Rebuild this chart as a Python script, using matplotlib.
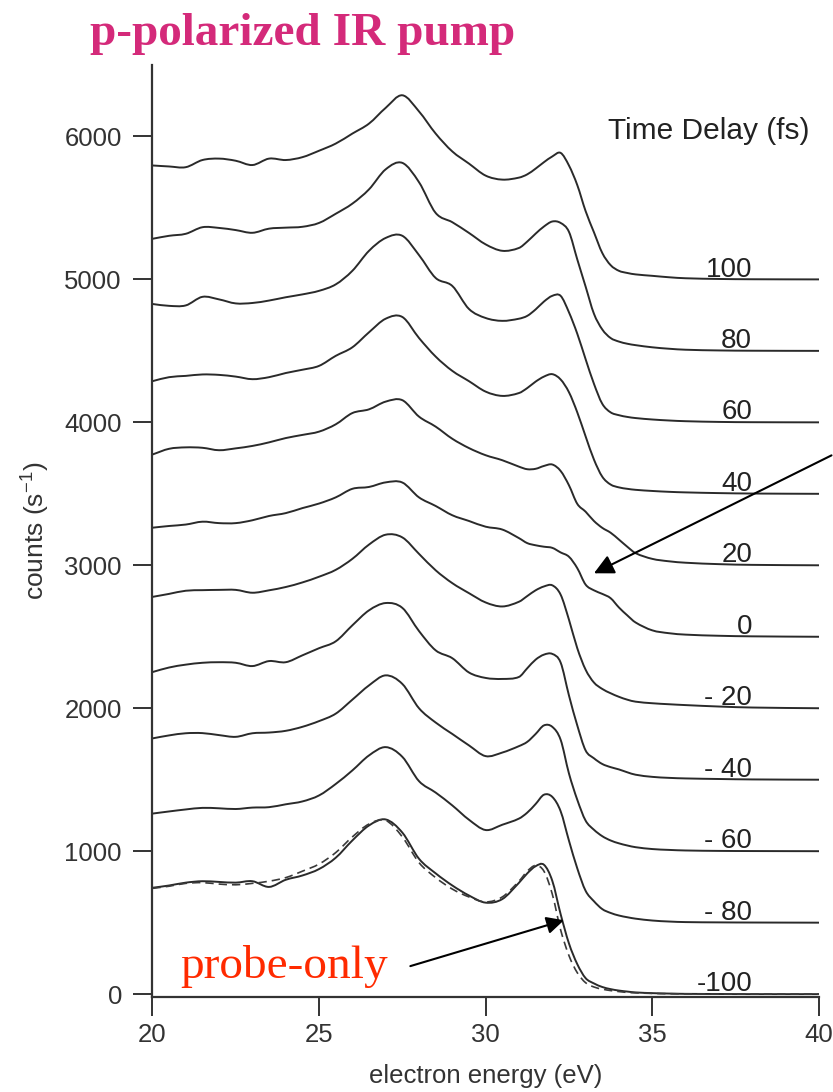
import matplotlib
matplotlib.use("Agg")
import matplotlib.pyplot as plt
from matplotlib.path import Path
from matplotlib.patches import PathPatch

plt.rcParams['font.family'] = ['Liberation Sans', 'DejaVu Sans']
plt.rcParams['mathtext.default'] = 'regular'

# Electron energy grid (eV)
energy = [20, 20.5, 21, 21.5, 22, 22.5, 23, 23.5, 24, 24.5, 25, 25.5, 26, 26.5,
          27, 27.5, 28, 28.5, 29, 29.5, 30, 30.5, 31,
          31.25, 31.5, 31.75, 32, 32.25, 32.5, 32.75, 33, 33.25, 33.5, 33.75,
          34, 34.25, 34.5,
          35, 35.5, 36, 37, 38, 40]

# Photoelectron spectra (counts/s) for each pump-probe time delay
delays = [100, 80, 60, 40, 20, 0, -20, -40, -60, -80, -100]
delay_labels = ["100", "80", "60", "40", "20", "0", "- 20", "- 40", "- 60", "- 80", "-100"]
offsets = [5000, 4500, 4000, 3500, 3000, 2500, 2000, 1500, 1000, 500, 0]

spec_p100 = [797, 790, 785, 835, 845, 830, 800, 845, 835, 855, 900, 950, 1020, 1090,
             1200, 1288, 1175, 1020, 895, 810, 726, 698, 712,
             735, 775, 820, 860, 885, 797, 660, 478, 330, 185, 100, 60, 45, 35,
             25, 15, 8, 3, 1, 0]
spec_p80 = [784, 805, 819, 865, 860, 845, 826, 855, 862, 868, 895, 959, 1030, 1130,
            1270, 1315, 1180, 965, 900, 825, 745, 700, 720,
            765, 820, 870, 905, 895, 833, 640, 450, 260, 150, 90, 65, 50, 40,
            25, 15, 8, 3, 1, 0]
spec_p60 = [828, 815, 818, 878, 860, 832, 835, 852, 875, 895, 920, 965, 1060, 1200,
            1290, 1305, 1170, 1010, 954, 793, 730, 710, 725,
            745, 790, 845, 885, 885, 770, 620, 442, 270, 130, 70, 50, 38, 30,
            20, 13, 8, 3, 1, 0]
spec_p40 = [788, 816, 825, 835, 832, 820, 802, 816, 845, 868, 895, 965, 1025, 1130,
            1225, 1237, 1090, 960, 860, 788, 715, 685, 705,
            740, 785, 820, 837, 800, 711, 570, 402, 240, 120, 65, 45, 35, 28,
            20, 14, 10, 5, 2, 0]
spec_p20 = [775, 815, 825, 822, 805, 818, 835, 860, 890, 912, 935, 986, 1065, 1091,
            1145, 1155, 1040, 970, 885, 820, 770, 735, 690,
            672, 675, 695, 705, 660, 560, 430, 375, 310, 262, 228, 180, 130, 85,
            45, 28, 18, 8, 3, 0]
spec_0 = [763, 775, 785, 805, 795, 795, 815, 845, 865, 900, 932, 975, 1035, 1048,
          1080, 1079, 975, 915, 850, 810, 770, 750, 690,
          655, 640, 630, 622, 590, 560, 480, 365, 325, 300, 270, 205, 150, 100,
          45, 25, 15, 7, 3, 0]
spec_m20 = [779, 800, 822, 826, 828, 828, 808, 825, 848, 880, 920, 968, 1045, 1145,
            1214, 1195, 1080, 965, 875, 805, 740, 712, 745,
            785, 825, 852, 860, 795, 620, 420, 270, 180, 135, 105, 80, 60, 46,
            35, 28, 22, 12, 5, 0]
spec_m40 = [753, 785, 805, 818, 822, 818, 795, 830, 822, 870, 920, 968, 1080, 1185,
            1236, 1202, 1040, 905, 850, 750, 712, 705, 719,
            780, 840, 875, 880, 820, 590, 380, 205, 150, 110, 88, 72, 52, 35,
            20, 13, 9, 5, 2, 0]
spec_m60 = [789, 810, 825, 826, 812, 800, 825, 830, 842, 870, 910, 962, 1060, 1160,
            1230, 1170, 1000, 900, 820, 740, 665, 690, 735,
            765, 820, 880, 870, 780, 544, 360, 214, 150, 105, 75, 55, 40, 28,
            15, 9, 5, 2, 1, 0]
spec_m80 = [763, 778, 792, 803, 800, 795, 805, 808, 828, 848, 890, 970, 1065, 1170,
            1228, 1160, 990, 910, 820, 720, 648, 685, 728,
            770, 830, 895, 880, 780, 574, 380, 223, 150, 95, 68, 50, 38, 28,
            15, 8, 4, 2, 1, 0]
spec_m100 = [744, 760, 780, 790, 785, 780, 790, 750, 800, 830, 875, 954, 1075, 1180,
             1222, 1130, 947, 845, 760, 690, 640, 665, 779,
             845, 895, 905, 793, 560, 355, 210, 112, 75, 50, 35, 25, 18, 12,
             7, 4, 2, 1, 0, 0]
# Reference spectrum without the IR pump
spec_probe_only = [740, 755, 775, 780, 770, 765, 775, 790, 815, 860, 910, 990, 1100, 1190,
                   1215, 1100, 920, 815, 735, 680, 645, 680, 790,
                   860, 900, 860, 700, 450, 270, 150, 80, 50, 35, 25, 18, 12, 9,
                   5, 3, 2, 1, 0, 0]

spectra = [spec_p100, spec_p80, spec_p60, spec_p40, spec_p20, spec_0,
           spec_m20, spec_m40, spec_m60, spec_m80, spec_m100]


def smooth_path(xs, ys):
    """Bezier path through the points with Catmull-Rom style tangents."""
    n = len(xs)
    m = [0.0] * n
    m[0] = (ys[1] - ys[0]) / (xs[1] - xs[0])
    m[-1] = (ys[-1] - ys[-2]) / (xs[-1] - xs[-2])
    for k in range(1, n - 1):
        m[k] = (ys[k + 1] - ys[k - 1]) / (xs[k + 1] - xs[k - 1])
    verts = [(xs[0], ys[0])]
    codes = [Path.MOVETO]
    for k in range(n - 1):
        t = (xs[k + 1] - xs[k]) / 3.0
        verts += [(xs[k] + t, ys[k] + m[k] * t),
                  (xs[k + 1] - t, ys[k + 1] - m[k + 1] * t),
                  (xs[k + 1], ys[k + 1])]
        codes += [Path.CURVE4] * 3
    return Path(verts, codes)


line_color = '#2a2a2a'
text_color = '#333333'

fig = plt.figure(figsize=(8.33, 10.92), dpi=100)
ax = fig.add_axes([0.183, 0.087, 0.800, 0.8535])

for spec, off, lab in zip(spectra, offsets, delay_labels):
    path = smooth_path(energy, [v + off for v in spec])
    ax.add_patch(PathPatch(path, facecolor='none', edgecolor=line_color, lw=1.4,
                           joinstyle='round', capstyle='round'))
    ax.text(38.0, off + 20, lab, ha='right', va='baseline', fontsize=20,
            color='#222222')

ax.add_patch(PathPatch(smooth_path(energy, spec_probe_only), facecolor='none',
                       edgecolor='#3a3a3a', lw=1.2, linestyle=(0, (5, 3))))

ax.set_xlim(20, 40)
ax.set_ylim(-20, 6500)
ax.set_xticks([20, 25, 30, 35, 40])
ax.set_yticks([0, 1000, 2000, 3000, 4000, 5000, 6000])

for side in ['top', 'right']:
    ax.spines[side].set_visible(False)
for side in ['left', 'bottom']:
    ax.spines[side].set_linewidth(1.6)
    ax.spines[side].set_color('#333333')

ax.tick_params(axis='both', direction='out', length=14, width=1.4,
               colors='#333333', labelsize=18.5, labelcolor=text_color)
ax.tick_params(axis='y', pad=8)
ax.tick_params(axis='x', pad=5)

ax.set_xlabel('electron energy (eV)', fontsize=18.5, color=text_color)
ax.set_ylabel('counts (s$^{-1}$)', fontsize=19, color=text_color)
ax.xaxis.set_label_coords(0.5, -0.072)
ax.yaxis.set_label_coords(-0.150, 0.5)

ax.text(33.67, 6035, 'Time Delay (fs)', ha='left', va='center', fontsize=21.5,
        color='#222222')

# Arrow marking the shoulder of the 0 fs spectrum
ax.annotate('', xy=(33.25, 2944), xytext=(40.38, 3769),
            arrowprops=dict(arrowstyle='-|>', color='black', lw=1.5,
                            mutation_scale=30, shrinkA=0, shrinkB=0),
            annotation_clip=False)

# Probe-only reference label and arrow
ax.text(20.83, 112, 'probe-only', ha='left', va='baseline', fontsize=34,
        family=['Liberation Serif', 'DejaVu Serif'], color='#ff2a00')
ax.annotate('', xy=(32.35, 517), xytext=(27.74, 196),
            arrowprops=dict(arrowstyle='-|>', color='black', lw=1.5,
                            mutation_scale=26, shrinkA=0, shrinkB=0))

fig.text(0.108, 0.959, 'p-polarized IR pump', ha='left', va='baseline',
         fontsize=34, fontweight='bold', family=['Liberation Serif', 'DejaVu Serif'],
         color='#d42a7a')

fig.savefig('out.png', dpi=100)
